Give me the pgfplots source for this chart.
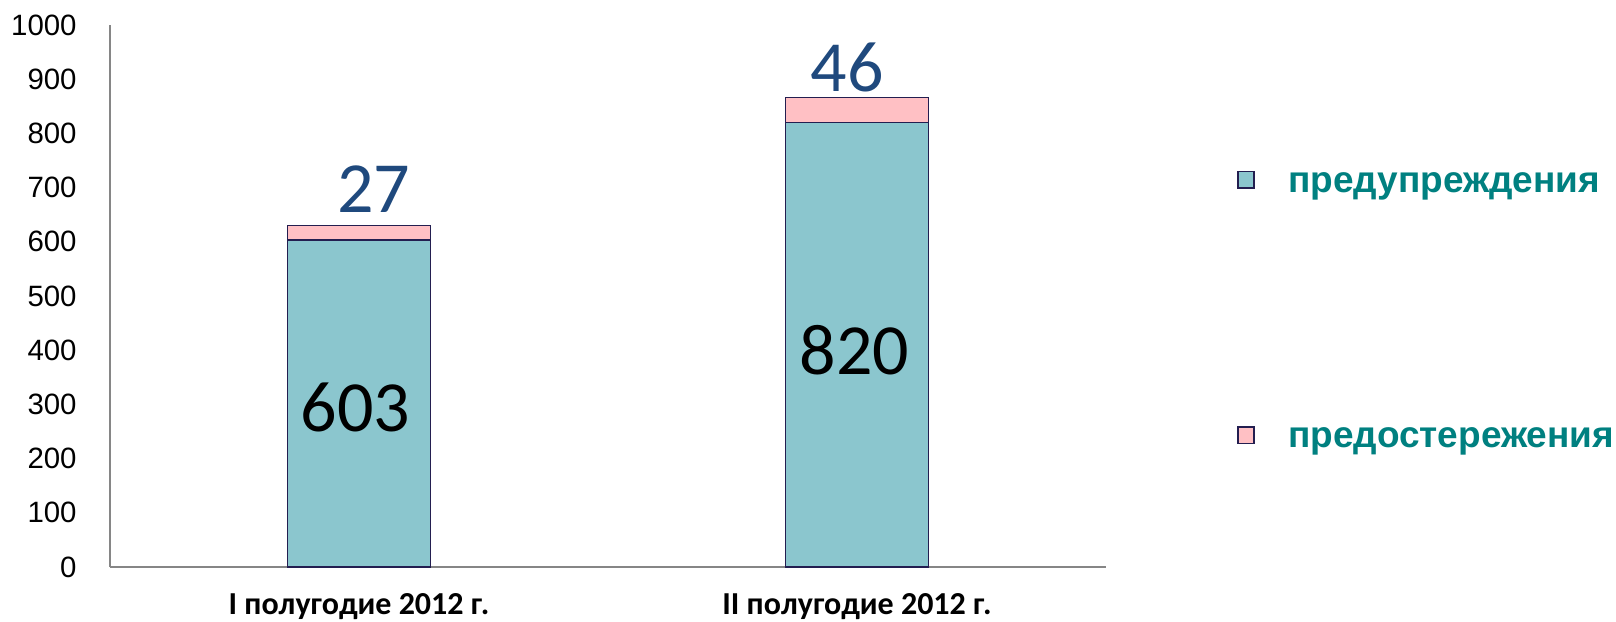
\documentclass[border=0pt]{standalone}
\usepackage{fontspec}
\setmainfont{Liberation Sans}
\newfontfamily\carlito{Carlito}
\usepackage{pgfplots}
\pgfplotsset{compat=1.18}
\definecolor{barteal}{RGB}{139,198,206}
\definecolor{barpink}{RGB}{255,192,196}
\definecolor{baredge}{RGB}{35,30,80}
\definecolor{lblblue}{RGB}{31,73,125}
\definecolor{legteal}{RGB}{0,128,128}
\definecolor{axgray}{RGB}{134,134,134}
\begin{document}
\begin{tikzpicture}
\begin{axis}[
 scale only axis, width=498pt, height=271pt,
 ybar stacked, bar width=71.5pt,
 xmin=-0.5, xmax=1.5, ymin=0, ymax=1000,
 axis x line=bottom, axis y line=left,
 axis line style={axgray, line width=1pt, -},
 xtick={0,1}, xticklabels={I полугодие 2012 г., II полугодие 2012 г.},
 ytick={0,100,...,1000},
 major tick length=0pt,
 /pgf/number format/assume math mode=true,
 /pgf/number format/1000 sep={},
 yticklabel style={font=\fontsize{14.7}{16}\selectfont, anchor=east, inner sep=0pt, xshift=-16.5pt},
 xticklabel style={font=\carlito\bfseries\fontsize{16}{18}\selectfont, anchor=base, inner sep=0pt, yshift=-23.8pt},
 clip=false,
 legend style={font=\bfseries\fontsize{18.5}{20}\selectfont, text=legteal, draw=none, fill=none,
   inner sep=0pt, outer sep=0pt, at={(1.1315,0.731)}, anchor=north west,
   row sep=113pt, column sep=16.5pt,
   nodes={inner sep=0pt, text height=10pt, text depth=4pt}},
 legend cell align=left,
 legend image code/.code={\draw[#1, line width=0.8pt] (0pt,-1pt) rectangle (8.25pt,7.25pt);},
]
\addplot[fill=barteal, draw=baredge, line width=0.8pt] coordinates {(0,603) (1,820)};
\addplot[fill=barpink, draw=baredge, line width=0.8pt] coordinates {(0,27) (1,46)};
\legend{предупреждения, предостережения}
\coordinate (l603) at (axis cs:-0.007,295);
\coordinate (l820) at (axis cs:0.995,400);
\coordinate (l27) at (axis cs:0.03,697);
\coordinate (l46) at (axis cs:0.98,922);
\end{axis}
\node[font=\carlito\fontsize{36}{40}\selectfont, text=black, inner sep=0pt] at (l603) {603};
\node[font=\carlito\fontsize{36}{40}\selectfont, text=black, inner sep=0pt] at (l820) {820};
\node[font=\carlito\fontsize{36}{40}\selectfont, text=lblblue, inner sep=0pt] at (l27) {27};
\node[font=\carlito\fontsize{36}{40}\selectfont, text=lblblue, inner sep=0pt] at (l46) {46};
\path (-55pt,-27pt) rectangle (753pt,283.5pt);
\end{tikzpicture}
\end{document}
